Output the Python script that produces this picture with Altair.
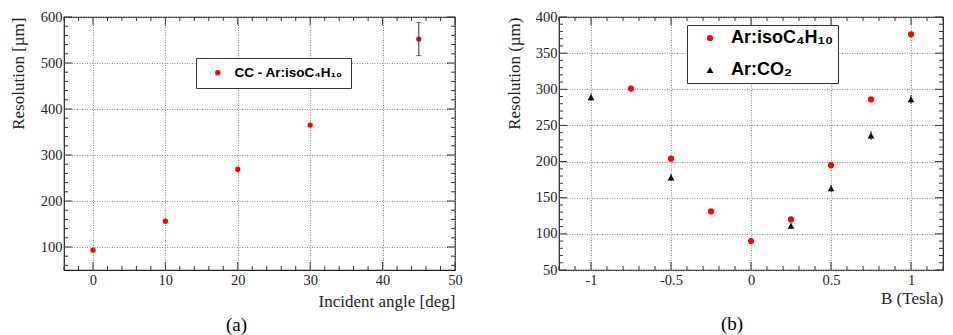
import altair as alt
import pandas as pd

# ---------------- data ----------------
angles = [0, 10, 20, 30, 45]
res_angle = [93, 156, 269, 365, 552]
err_angle = [0, 0, 0, 0, 36]

b_iso = [-0.75, -0.5, -0.25, 0, 0.25, 0.5, 0.75, 1]
res_iso = [301, 204, 131, 90, 120, 195, 286, 376]
b_co2 = [-1, -0.5, 0.25, 0.5, 0.75, 1]
res_co2 = [289, 178, 111, 163, 236, 286]
err_co2 = [5, 5, 4, 5, 6, 6]

label_a = "CC - Ar:isoC₄H₁₀"
label_iso = "Ar:isoC₄H₁₀"
label_co2 = "Ar:CO₂"

a_x_major = [0, 10, 20, 30, 40, 50]
a_x_minor = [v for v in range(-4, 51, 2) if v % 10 != 0]
a_y_major = [100, 200, 300, 400, 500, 600]
a_y_minor = [v for v in range(60, 601, 20) if v % 100 != 0]

b_x_major = [-1, -0.5, 0, 0.5, 1]
b_x_minor = [round(v / 10, 1) for v in range(-12, 13) if v % 5 != 0]
b_y_major = [50, 100, 150, 200, 250, 300, 350, 400]
b_y_minor = [v for v in range(50, 401, 10) if v % 50 != 0]

SERIF = "Liberation Serif"
SANS = "Liberation Sans"
TXT = "#222222"
TICK = "#333333"
WA, WB, H = 391, 384, 253

df_a = pd.DataFrame({"x": angles, "y": res_angle, "e": err_angle, "s": [label_a] * len(angles)})
df_a["lo"] = df_a["y"] - df_a["e"]
df_a["hi"] = df_a["y"] + df_a["e"]
df_a_err = df_a[df_a["e"] > 0]

df_b = pd.DataFrame({
    "x": b_iso + b_co2,
    "y": res_iso + res_co2,
    "s": [label_iso] * len(b_iso) + [label_co2] * len(b_co2),
})
df_b_err = pd.DataFrame({"x": b_co2, "y": res_co2, "e": err_co2})
df_b_err["lo"] = df_b_err["y"] - df_b_err["e"]
df_b_err["hi"] = df_b_err["y"] + df_b_err["e"]


def tick_layers(xs, ys, xmaj, xmin, ymaj, ymin, W):
    """Inward ROOT-style ticks on all four sides, positioned by the scales."""
    layers = []
    for vals, size in [(xmaj, 8), (xmin, 4)]:
        d = pd.DataFrame({"v": vals})
        for y0, y1 in [(H, H - size), (0, size)]:
            layers.append(alt.Chart(d).mark_rule(color=TICK, strokeWidth=1).encode(
                x=alt.X("v:Q", scale=xs, axis=None),
                y=alt.value(y0), y2=alt.value(y1)))
    for vals, size in [(ymaj, 8), (ymin, 4)]:
        d = pd.DataFrame({"v": vals})
        for x0, x1 in [(0, size), (W, W - size)]:
            layers.append(alt.Chart(d).mark_rule(color=TICK, strokeWidth=1).encode(
                y=alt.Y("v:Q", scale=ys, axis=None),
                x=alt.value(x0), x2=alt.value(x1)))
    return layers


def main_axes(xmaj, ymaj, xtitle, ytitle, xty, ytx, W):
    ax = alt.Axis(orient="bottom", values=xmaj, labelFont=SERIF, labelFontSize=14.5,
                  labelColor=TXT, labelPadding=3, ticks=False, tickSize=0, domain=False,
                  grid=True, gridDash=[1, 1.5], gridColor="#8a8a8a", gridWidth=1,
                  labelExpr="'' + datum.value", labelFlush=False, labelOverlap=False,
                  title=xtitle, titleFont=SERIF, titleFontSize=17, titleFontWeight="normal",
                  titleColor=TXT, titleX=W, titleY=xty, titleAlign="right",
                  titleBaseline="middle", titleAngle=0)
    ay = alt.Axis(orient="left", values=ymaj, labelFont=SERIF, labelFontSize=14.5,
                  labelColor=TXT, labelPadding=2, ticks=False, tickSize=0, domain=False,
                  grid=True, gridDash=[1, 1.5], gridColor="#8a8a8a", gridWidth=1,
                  labelFlush=False, labelOverlap=False,
                  title=ytitle, titleFont=SERIF, titleFontSize=17, titleFontWeight="normal",
                  titleColor=TXT, titleX=ytx, titleY=0, titleAlign="right",
                  titleBaseline="middle", titleAngle=-90)
    return ax, ay


# ---------------- panel (a) ----------------
xs_a = alt.Scale(domain=[-4, 50], nice=False, zero=False)
ys_a = alt.Scale(domain=[50, 600], nice=False, zero=False)
ax_a, ay_a = main_axes(a_x_major, a_y_major, "Incident angle [deg]", "Resolution [µm]", 31, -46, WA)

legend_a = alt.Legend(title=None, orient="none", legendX=132, legendY=41, fillColor="white",
                      strokeColor="#333333", padding=8, labelFont=SANS, labelFontSize=13.5,
                      labelFontWeight="bold", labelColor="black", symbolSize=30,
                      labelOffset=10, symbolOffset=7, labelLimit=400)

pts_a = alt.Chart(df_a).mark_point(filled=True, size=28, opacity=1).encode(
    x=alt.X("x:Q", scale=xs_a, axis=ax_a),
    y=alt.Y("y:Q", scale=ys_a, axis=ay_a),
    color=alt.Color("s:N", scale=alt.Scale(domain=[label_a], range=["#ff0000"]), legend=legend_a),
)
err_a = alt.Chart(df_a_err).mark_rule(color="#333333", strokeWidth=1).encode(
    x=alt.X("x:Q", scale=xs_a, axis=None),
    y=alt.Y("lo:Q", scale=ys_a, axis=None),
    y2="hi:Q",
)
cap_lo = alt.Chart(df_a_err).mark_tick(color="#333333", thickness=1, size=5, orient="horizontal").encode(
    x=alt.X("x:Q", scale=xs_a, axis=None), y=alt.Y("lo:Q", scale=ys_a, axis=None))
cap_hi = alt.Chart(df_a_err).mark_tick(color="#333333", thickness=1, size=5, orient="horizontal").encode(
    x=alt.X("x:Q", scale=xs_a, axis=None), y=alt.Y("hi:Q", scale=ys_a, axis=None))

panel_a = alt.layer(
    pts_a,
    *tick_layers(xs_a, ys_a, a_x_major, a_x_minor, a_y_major, a_y_minor, WA),
    err_a, cap_lo, cap_hi,
).resolve_axis(x="independent", y="independent").properties(
    width=WA, height=H,
    title=alt.TitleParams("(a)", orient="bottom", anchor="middle", dx=-23, offset=7,
                          font=SERIF, fontSize=19, fontWeight="normal", color="black"),
)

# ---------------- panel (b) ----------------
xs_b = alt.Scale(domain=[-1.2, 1.2], nice=False, zero=False)
ys_b = alt.Scale(domain=[50, 400], nice=False, zero=False)
ax_b, ay_b = main_axes(b_x_major, b_y_major, "B (Tesla)", "Resolution (µm)", 28, -44.5, WB)

legend_b = alt.Legend(title=None, orient="none", legendX=128, legendY=8, fillColor="white",
                      strokeColor="#333333", padding=4, labelFont=SANS, labelFontSize=18,
                      labelFontWeight="bold", labelColor="black", symbolSize=40,
                      labelOffset=12, symbolOffset=10, rowPadding=14, labelLimit=400)

pts_b = alt.Chart(df_b).mark_point(filled=True, opacity=1, size=38).encode(
    x=alt.X("x:Q", scale=xs_b, axis=ax_b),
    y=alt.Y("y:Q", scale=ys_b, axis=ay_b),
    color=alt.Color("s:N", scale=alt.Scale(domain=[label_iso, label_co2], range=["#ff0000", "#000000"]),
                    legend=legend_b),
    shape=alt.Shape("s:N", scale=alt.Scale(domain=[label_iso, label_co2], range=["circle", "triangle-up"]),
                    legend=legend_b),
    size=alt.Size("s:N", scale=alt.Scale(domain=[label_iso, label_co2], range=[38, 46]), legend=None),
)
err_b = alt.Chart(df_b_err).mark_rule(color="#222222", strokeWidth=1).encode(
    x=alt.X("x:Q", scale=xs_b, axis=None),
    y=alt.Y("lo:Q", scale=ys_b, axis=None),
    y2="hi:Q",
)

panel_b = alt.layer(
    pts_b,
    *tick_layers(xs_b, ys_b, b_x_major, b_x_minor, b_y_major, b_y_minor, WB),
    err_b,
).resolve_axis(x="independent", y="independent").properties(
    width=WB, height=H,
    title=alt.TitleParams("(b)", orient="bottom", anchor="middle", dx=-19, offset=9,
                          font=SERIF, fontSize=19, fontWeight="normal", color="black"),
)

chart = alt.hconcat(panel_a, panel_b, spacing=104, bounds="flush").resolve_scale(
    color="independent", shape="independent", size="independent"
).resolve_legend(color="independent", shape="independent", size="independent").properties(
    padding={"left": 0, "top": 0, "right": 0, "bottom": 0},
).configure(background="white").configure_view(stroke="#222222", strokeWidth=1.2)

chart.save("out.html", embed_options={"renderer": "svg", "actions": False})
